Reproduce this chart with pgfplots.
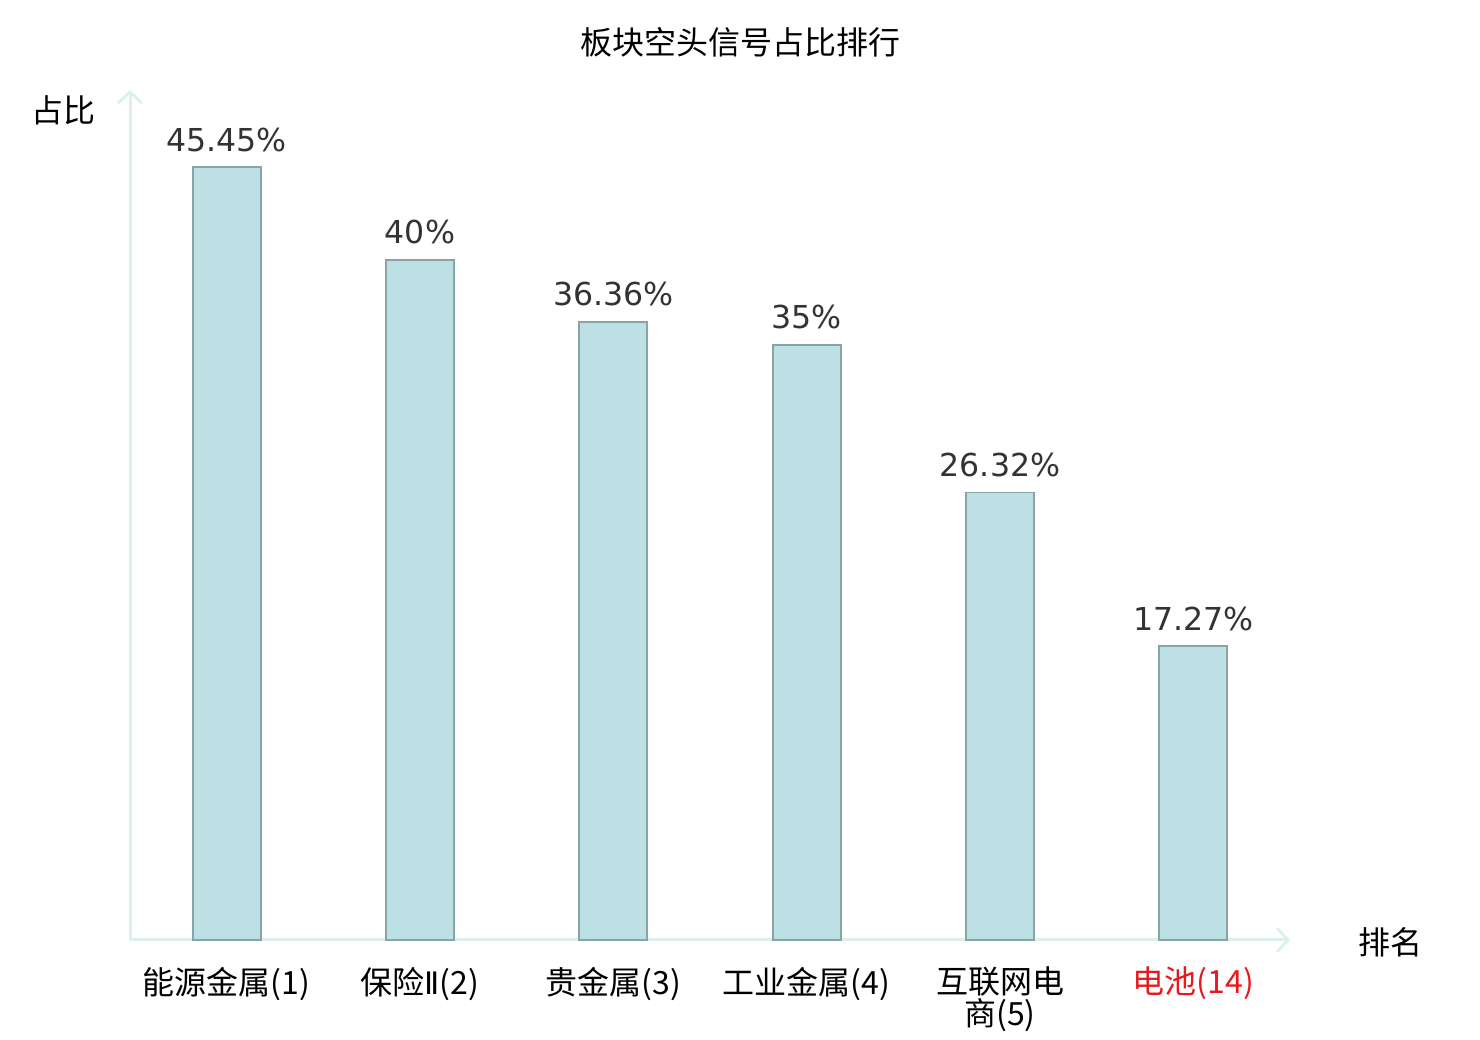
\documentclass[border=0pt]{standalone}
\usepackage{fontspec}
\setmainfont{Noto Sans CJK SC}
\newfontfamily\dejavu{DejaVu Sans}
\usepackage{pgfplots}
\pgfplotsset{compat=1.18}
\usetikzlibrary{arrows.meta}
\definecolor{barfill}{HTML}{BCE0E3}
\definecolor{baredge}{HTML}{88A4A6}
\definecolor{axcol}{HTML}{DCF1EE}
\definecolor{valcol}{HTML}{333333}
\definecolor{myred}{HTML}{E8191E}
\begin{document}
\begin{tikzpicture}
\begin{axis}[
  scale only axis,
  width=580pt, height=425pt,
  xmin=-0.5, xmax=5.5, ymin=0, ymax=50,
  axis x line=bottom, axis y line=left,
  axis line style={axcol, line width=1.5pt, -{Straight Barb[length=5.5pt,width=12pt,line width=1.5pt]}},
  ytick=\empty,
  xtick={0,1,2,3,4,5},
  major tick length=0pt,
  xticklabels={能源金属(1),保险{\dejavu\fontsize{15.5pt}{16pt}\selectfont Ⅱ}(2),贵金属(3),工业金属(4),{互联网电\\商(5)},\textcolor{myred}{电池(14)}},
  xticklabel style={font=\fontsize{16pt}{16pt}\selectfont, align=center, anchor=north, yshift=-10pt},
  ybar, bar width=34pt,
  nodes near coords={\pgfmathprintnumber{\pgfplotspointmeta}\%},
  every node near coord/.append style={font=\dejavu\fontsize{15.8pt}{18pt}\selectfont, text=valcol, /pgf/number format/assume math mode=true, yshift=4pt},
  clip=false,
]
\addplot[fill=barfill, draw=baredge, line width=0.9pt] coordinates {(0,45.45) (1,40) (2,36.36) (3,35) (4,26.32) (5,17.27)};
\coordinate (ll) at (rel axis cs:0,0);
\coordinate (ur) at (rel axis cs:1,1);
\end{axis}
\pgfresetboundingbox
\useasboundingbox ([shift={(-65pt,-50pt)}]ll) rectangle ([shift={(95pt,45pt)}]ur);
\node[font=\fontsize{16pt}{18pt}\selectfont] at ([shift={(305pt,24pt)}]ll |- ur) {板块空头信号占比排行};
\node[font=\fontsize{16pt}{18pt}\selectfont] at ([shift={(-33pt,-10pt)}]ll |- ur) {占比};
\node[font=\fontsize{16pt}{18pt}\selectfont] at ([shift={(50pt,-1pt)}]ur |- ll) {排名};
\end{tikzpicture}
\end{document}
